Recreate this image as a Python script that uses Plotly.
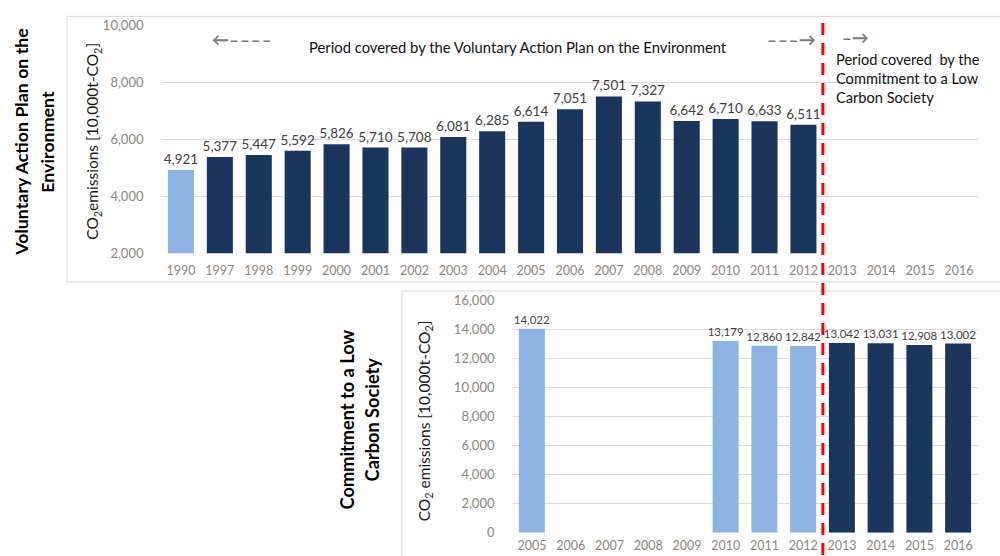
import plotly.graph_objects as go

# --- data -------------------------------------------------------------------
vap_years = ["1990", "1997", "1998", "1999", "2000", "2001", "2002", "2003",
             "2004", "2005", "2006", "2007", "2008", "2009", "2010", "2011",
             "2012", "2013", "2014", "2015", "2016"]
vap_values = [4921, 5377, 5447, 5592, 5826, 5710, 5708, 6081, 6285, 6614,
              7051, 7501, 7327, 6642, 6710, 6633, 6511, None, None, None, None]
vap_base_year = ["1990"]

lcs_years = ["2005", "2006", "2007", "2008", "2009", "2010", "2011", "2012",
             "2013", "2014", "2015", "2016"]
lcs_values = [14022, None, None, None, None, 13179, 12860, 12842,
              13042, 13031, 12908, 13002]
lcs_commit_years = ["2013", "2014", "2015", "2016"]

vap_ticks = [2000, 4000, 6000, 8000, 10000]
lcs_ticks = [0, 2000, 4000, 6000, 8000, 10000, 12000, 14000, 16000]

# --- styling ----------------------------------------------------------------
DARK = "#1b365d"
LIGHT = "#8db3e2"
GRID = "#d9d9d9"
TICK = "#8a8580"
LABEL = "#404040"
FONT = "Lato, 'Open Sans', sans-serif"
W, H = 1000, 556


def py(pixel_y):
    # page row -> paper fraction
    return 1 - ((pixel_y - 6.6) / 0.976) / H


def px(pixel_x):
    return pixel_x / W


vap_colors = [LIGHT if y in vap_base_year else DARK for y in vap_years]
lcs_colors = [DARK if y in lcs_commit_years else LIGHT for y in lcs_years]

fig = go.Figure()

fig.add_trace(go.Bar(
    x=vap_years, y=vap_values, marker=dict(color=vap_colors, line=dict(width=0)),
    text=[f"{v:,}" if v is not None else "" for v in vap_values],
    textposition="outside", constraintext="none", cliponaxis=False,
    textfont=dict(family=FONT, size=13.5, color=LABEL),
    xaxis="x", yaxis="y", showlegend=False, hoverinfo="x+y",
))

fig.add_trace(go.Bar(
    x=lcs_years, y=lcs_values, marker=dict(color=lcs_colors, line=dict(width=0)),
    text=[f"{v:,}" if v is not None else "" for v in lcs_values],
    textposition="outside", constraintext="none", cliponaxis=False,
    textfont=dict(family=FONT, size=11.5, color=LABEL),
    xaxis="x2", yaxis="y2", showlegend=False, hoverinfo="x+y",
))

xaxis_common = dict(showline=False, zeroline=False, ticks="", showgrid=False,
                    tickfont=dict(family=FONT, size=12.5, color=TICK))
yaxis_common = dict(showline=False, zeroline=False, ticks="", showgrid=True,
                    gridcolor=GRID, gridwidth=1, tickformat=",d",
                    ticklabelstandoff=17,
                    tickfont=dict(family=FONT, size=13, color=TICK))

fig.update_layout(
    width=W, height=H,
    margin=dict(l=0, r=0, t=0, b=0),
    paper_bgcolor="white", plot_bgcolor="white",
    bargap=0.33,
    font=dict(family=FONT),
    xaxis=dict(domain=[px(161.5), px(978.5)], anchor="y", type="category",
               categoryorder="array", categoryarray=vap_years,
               ticklabelstandoff=8, **xaxis_common),
    yaxis=dict(domain=[py(253), py(24)], anchor="x", range=[2000, 10000],
               tickvals=vap_ticks, **yaxis_common),
    xaxis2=dict(domain=[px(512.5), px(977.5)], anchor="y2", type="category",
                categoryorder="array", categoryarray=lcs_years,
                ticklabelstandoff=4, **xaxis_common),
    yaxis2=dict(domain=[py(534), py(300)], anchor="x2", range=[0, 16000],
                tickvals=lcs_ticks, **yaxis_common),
)

# chart frames
fig.add_shape(type="rect", xref="paper", yref="paper",
              x0=px(67), x1=1.02, y0=py(282), y1=py(15),
              line=dict(color=GRID, width=1), layer="below")
fig.add_shape(type="rect", xref="paper", yref="paper",
              x0=px(402), x1=1.02, y0=-0.05, y1=py(291),
              line=dict(color=GRID, width=1), layer="below")

# divider between the two reporting periods (between 2012 and 2013)
fig.add_shape(type="line", xref="x", yref="paper",
              x0=16.5, x1=16.5, y0=-0.05, y1=py(15),
              line=dict(color="#ff0000", width=3, dash="12px,8px"))

ARROW = dict(size=17, color="#7a7a7a", weight="bold")
HS = "\u200a"
annotations = [
    dict(text="Period covered by the Voluntary Action Plan on the Environment",
         x=px(518), y=py(46), font=dict(size=14.8, color="#111111")),
    dict(text="←" + HS.join(["–"] * 4), x=px(210), y=py(38), xanchor="left", font=ARROW),
    dict(text=HS.join(["–"] * 3) + "→", x=px(818), y=py(38), xanchor="right", font=ARROW),
    dict(text="–→", x=px(840), y=py(36), xanchor="left", font=ARROW),
    dict(text="Period covered  by the<br>Commitment to a Low<br>Carbon Society",
         x=px(834), y=py(77), xanchor="left", align="left",
         font=dict(size=14.6, color="#111111")),
    dict(text="Voluntary Action Plan on the", x=px(21), y=py(141), textangle=-90,
         font=dict(size=17.8, color="#000000", weight="bold")),
    dict(text="Environment", x=px(47), y=py(141), textangle=-90,
         font=dict(size=17.8, color="#000000", weight="bold")),
    dict(text="Commitment to a Low", x=px(347), y=py(420), textangle=-90,
         font=dict(size=18.2, color="#000000", weight="bold")),
    dict(text="Carbon Society", x=px(372), y=py(420), textangle=-90,
         font=dict(size=18.2, color="#000000", weight="bold")),
    dict(text="CO<sub>2</sub>emissions [10,000t-CO<sub>2</sub>]",
         x=px(93), y=py(141), textangle=-90, font=dict(size=15.5, color="#1a1a1a")),
    dict(text="CO<sub>2</sub> emissions [10,000t-CO<sub>2</sub>]",
         x=px(425), y=py(422), textangle=-90, font=dict(size=15.5, color="#1a1a1a")),
]
for a in annotations:
    a.setdefault("xanchor", "center")
    fig.add_annotation(xref="paper", yref="paper", showarrow=False,
                       yanchor="middle", **a)

fig.write_html("out.html")
